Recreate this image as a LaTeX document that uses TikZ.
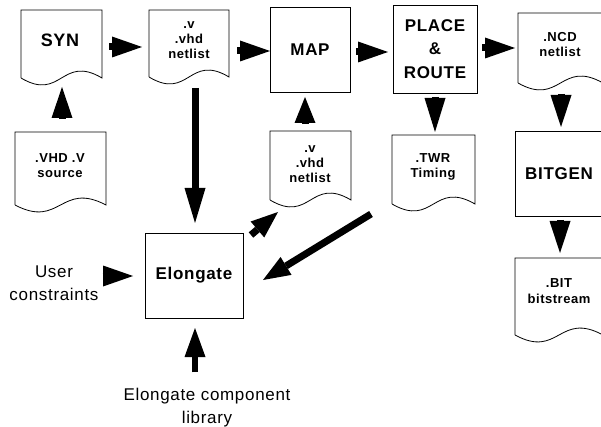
\documentclass[tikz,border=0pt]{standalone}
\usepackage{fontspec}
\setmainfont{Liberation Sans}[LetterSpace=4]
\usetikzlibrary{arrows.meta}
\begin{document}
\begin{tikzpicture}[x=1pt,y=-1pt,
  docarea/.style={draw=none, inner sep=0pt, outer sep=0pt, anchor=north west},
  doctext/.style={inner sep=0pt, align=center, font=\fontsize{13}{15}\selectfont\bfseries},
  bigtext/.style={inner sep=0pt, align=center, font=\fontsize{18}{23.5}\selectfont\bfseries},
  procbox/.style={draw, line width=0.8pt, inner sep=0pt, outer sep=0pt, anchor=north west, align=center, font=\fontsize{17}{23.5}\selectfont\bfseries},
  docline/.style={line width=0.8pt},
  lbl/.style={inner sep=0pt, align=center, font=\fontsize{17}{23}\selectfont},
  arr/.style={line width=7pt, -{Triangle[length=#1, width=21pt, line width=0pt]}},
  arr/.default=30pt]
\useasboundingbox (0,0) rectangle (601,427);
\clip (0,0) rectangle (601,427);

% document shapes (areas)
\node[docarea, minimum width=81pt, minimum height=68pt] (syn) at (21,10) {};
\node[docarea, minimum width=80pt, minimum height=67pt] (net1) at (149,10) {};
\node[docarea, minimum width=91pt, minimum height=73pt] (src) at (15,132) {};
\node[docarea, minimum width=81pt, minimum height=69pt] (net2) at (270,131) {};
\node[docarea, minimum width=83pt, minimum height=69pt] (twr) at (392,135) {};
\node[docarea, minimum width=85pt, minimum height=70pt] (ncd) at (518,13) {};
\node[docarea, minimum width=88pt, minimum height=77pt] (bit) at (515,258) {};

\foreach \n in {syn,net1,src,net2,twr,ncd,bit}
  \draw[docline] (\n.south west) -- (\n.north west) -- (\n.north east) -- (\n.south east)
    .. controls ([yshift=24pt]\n.south) and ([yshift=-24pt]\n.south) .. (\n.south west);

% document texts
\node[bigtext] (synt) at (60,40) {SYN};
\node[doctext] (net1t) at (189,40) {.v\\.vhd\\netlist};
\node[doctext] (srct) at (60,166) {.VHD .V\\source};
\node[doctext] (net2t) at (310,164) {.v\\.vhd\\netlist};
\node[doctext] (twrt) at (433,167) {.TWR\\Timing};
\node[doctext] (ncdt) at (560,45) {.NCD\\netlist};
\node[doctext, font=\fontsize{13}{16}\selectfont\bfseries] (bitt) at (559,291) {.BIT\\bitstream};

% process boxes
\node[procbox, minimum width=80pt, minimum height=85pt] (map) at (270,7) {MAP};
\node[procbox, minimum width=84pt, minimum height=88pt] (pr) at (393,5) {PLACE\\\&\\ROUTE};
\node[procbox, minimum width=88pt, minimum height=85pt] (bitgen) at (515,131) {BITGEN};
\node[procbox, minimum width=98pt, minimum height=85pt] (elong) at (145,233) {Elongate};

% labels
\node[lbl] (user) at (54,283) {User\\constraints};
\node[lbl] (lib) at (207,408) {Elongate component\\library};

% arrows
\draw[arr] ([shift={(7,3)}]syn.east) -- ([shift={(-7,3.5)}]net1.west);
\draw[arr] ([shift={(8,7.5)}]net1.east) -- ([shift={(0,1.5)}]map.west);
\draw[arr] ([shift={(6,2.5)}]map.east) -- ([shift={(-5,3)}]pr.west);
\draw[arr] ([shift={(5,-1)}]pr.east) -- ([shift={(-3,0)}]ncd.west);
\draw[arr=34pt] ([shift={(0,4)}]pr.south) -- ([shift={(1.5,-3)}]twr.north);
\draw[arr=32pt] ([shift={(0.5,11)}]ncd.south) -- ([shift={(2,-4)}]bitgen.north);
\draw[arr=32pt] ([shift={(1,4)}]bitgen.south) -- ([shift={(1,-5)}]bit.north);
\draw[arr=31pt] ([shift={(1.5,-13)}]src.north) -- ([shift={(0.5,9)}]syn.south);
\draw[arr=26pt] ([shift={(-5.5,-7)}]net2.north) -- ([shift={(-5,5)}]map.south);
\draw[arr=35pt] ([shift={(6,11)}]net1.south) -- ([shift={(1,-10)}]elong.north);
\draw[arr] ([shift={(4,-7)}]user.east) -- ([shift={(-12,0.5)}]elong.west);
\draw[arr=29pt, line width=6pt] ([shift={(-12,-16)}]lib.north) -- ([shift={(1,10)}]elong.south);
\draw[arr=27pt] ([shift={(8,2)}]elong.north east) -- ([shift={(8,12)}]net2.south west);
\draw[arr=27pt] ([shift={(-21,10)}]twr.south west) -- ([shift={(20,4.5)}]elong.east);
\end{tikzpicture}
\end{document}
